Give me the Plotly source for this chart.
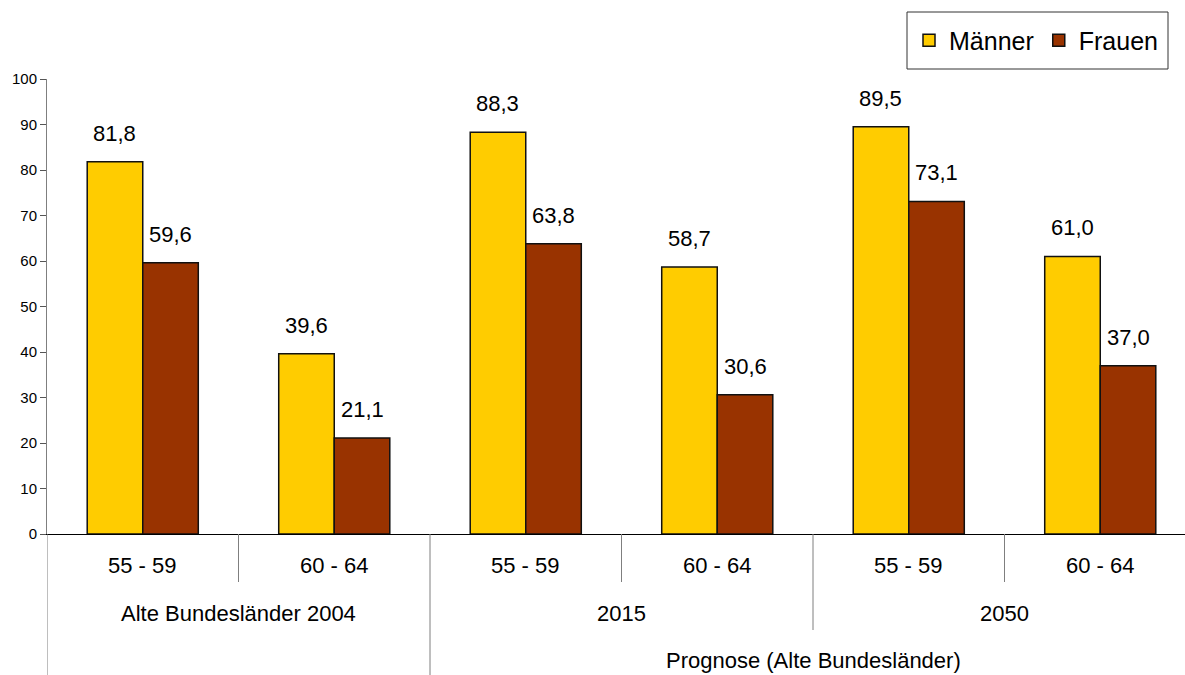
import plotly.graph_objects as go

# ---- data ----
age_groups = ["55 - 59", "60 - 64", "55 - 59", "60 - 64", "55 - 59", "60 - 64"]
periods = ["Alte Bundesländer 2004", "2015", "2050"]
outer_label = "Prognose (Alte Bundesländer)"
maenner = [81.8, 39.6, 88.3, 58.7, 89.5, 61.0]
frauen = [59.6, 21.1, 63.8, 30.6, 73.1, 37.0]
y_ticks = [0, 10, 20, 30, 40, 50, 60, 70, 80, 90, 100]

# ---- layout constants ----
W, H = 1185, 675
ML, MR, MT, MB = 47, 0, 79, 141
PH = H - MT - MB
PW = W - ML - MR
CAT_PX = 191.5
XMAX = PW / CAT_PX
BARGAP = 0.42
BAR_W = (1 - BARGAP) / 2
FONT = "Liberation Sans, Arial, sans-serif"
GRAY = "#7f7f7f"
LBL = 22

xs = [i + 0.5 for i in range(len(age_groups))]

def fmt(v):
    return f"{v:.1f}".replace(".", ",")

fig = go.Figure()
fig.add_trace(go.Bar(x=xs, y=maenner, name="Männer",
                     marker=dict(color="#FFCC00", line=dict(color="#111", width=1.5))))
fig.add_trace(go.Bar(x=xs, y=frauen, name="Frauen",
                     marker=dict(color="#993300", line=dict(color="#111", width=1.5))))

annotations = []
for x, m, f in zip(xs, maenner, frauen):
    annotations.append(dict(x=x - BAR_W / 2, y=m, xref="x", yref="y", text=fmt(m),
                            showarrow=False, yanchor="bottom", yshift=14,
                            font=dict(size=LBL, family=FONT, color="black")))
    annotations.append(dict(x=x + BAR_W / 2, y=f, xref="x", yref="y", text=fmt(f),
                            showarrow=False, yanchor="bottom", yshift=14,
                            font=dict(size=LBL, family=FONT, color="black")))

def py(px_below):
    return -px_below / PH

def px_x(px):
    return (px - ML) / PW

def px_y(px):
    return (MT + PH - px) / PH

for x, lab in zip(xs, age_groups):
    annotations.append(dict(x=x, y=py(31), xref="x", yref="paper", text=lab,
                            showarrow=False, yanchor="middle",
                            font=dict(size=LBL, family=FONT, color="black")))
for j, lab in enumerate(periods):
    annotations.append(dict(x=2 * j + 1, y=py(79), xref="x", yref="paper", text=lab,
                            showarrow=False, yanchor="middle",
                            font=dict(size=LBL, family=FONT, color="black")))
annotations.append(dict(x=4, y=py(126), xref="x", yref="paper", text=outer_label,
                        showarrow=False, yanchor="middle",
                        font=dict(size=LBL, family=FONT, color="black")))

shapes = []
def vline(x, depth):
    shapes.append(dict(type="line", xref="x", yref="paper", x0=x, x1=x,
                       y0=0, y1=py(depth), line=dict(color=GRAY, width=1)))
vline(0, MB)
vline(1, 48)
vline(2, MB)
vline(3, 48)
vline(4, 96)
vline(5, 48)

# legend frame
shapes.append(dict(type="rect", xref="paper", yref="paper",
                   x0=px_x(907), x1=px_x(1168), y0=px_y(69), y1=px_y(12),
                   line=dict(color="#333", width=1), fillcolor="rgba(0,0,0,0)"))

fig.update_layout(
    width=W, height=H,
    margin=dict(l=ML, r=MR, t=MT, b=MB),
    paper_bgcolor="white", plot_bgcolor="white",
    barmode="group", bargap=BARGAP, bargroupgap=0,
    font=dict(family=FONT, color="black"),
    showlegend=True,
    legend=dict(orientation="h", x=px_x(1163), xanchor="right",
                y=px_y(40.5), yanchor="middle",
                borderwidth=0, bgcolor="rgba(0,0,0,0)",
                font=dict(size=25, family=FONT, color="black"),
                itemwidth=30, traceorder="normal"),
    xaxis=dict(range=[0, XMAX], showticklabels=False, ticks="", showgrid=False,
               zeroline=False, showline=True, linecolor="black", linewidth=1,
               fixedrange=True),
    yaxis=dict(range=[0, 100], tickvals=y_ticks, ticks="outside", ticklen=6,
               tickcolor="#555", showgrid=False, zeroline=False, showline=True,
               linecolor=GRAY, linewidth=1,
               tickfont=dict(size=15, family=FONT, color="black")),
    annotations=annotations,
    shapes=shapes,
)

fig.write_html("out.html")
